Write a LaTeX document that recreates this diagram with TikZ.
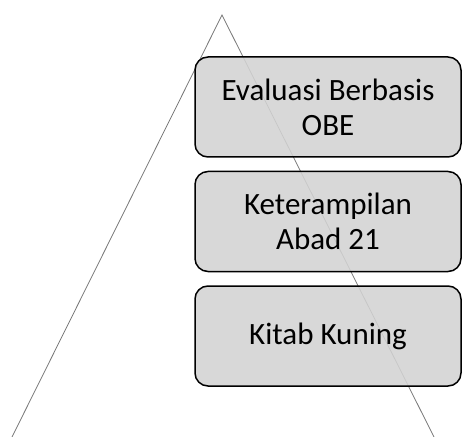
\documentclass[tikz,border=0pt]{standalone}
\usepackage{fontspec}
\setmainfont{Carlito}
\usetikzlibrary{positioning}

\definecolor{boxgray}{RGB}{211,211,211}
\definecolor{linegray}{RGB}{120,120,120}

\tikzset{
  level/.style={draw=black, line width=1.5bp, fill=boxgray, fill opacity=0.88, text opacity=1,
    rounded corners=13bp, minimum width=266bp, minimum height=100bp,
    align=center, inner sep=0pt,
    font=\fontsize{31bp}{35bp}\selectfont},
  side/.style={draw=linegray, line width=0.8bp}
}

\begin{document}
\begin{tikzpicture}[x=1bp, y=-1bp]
  \useasboundingbox (0,0) rectangle (463,437);
  % triangle behind the levels
  \coordinate (apex) at (222,15);
  \coordinate (baseL) at (12,437);
  \coordinate (baseR) at (434,437);
  \draw[side] (baseL) -- (apex) -- (baseR);
  % levels
  \node[level] (obe) at (328,107) {Evaluasi Berbasis\\OBE};
  \node[level, below=13bp of obe] (abad) {Keterampilan\\Abad 21};
  \node[level, below=13bp of abad] (kitab) {Kitab Kuning};
\end{tikzpicture}
\end{document}
